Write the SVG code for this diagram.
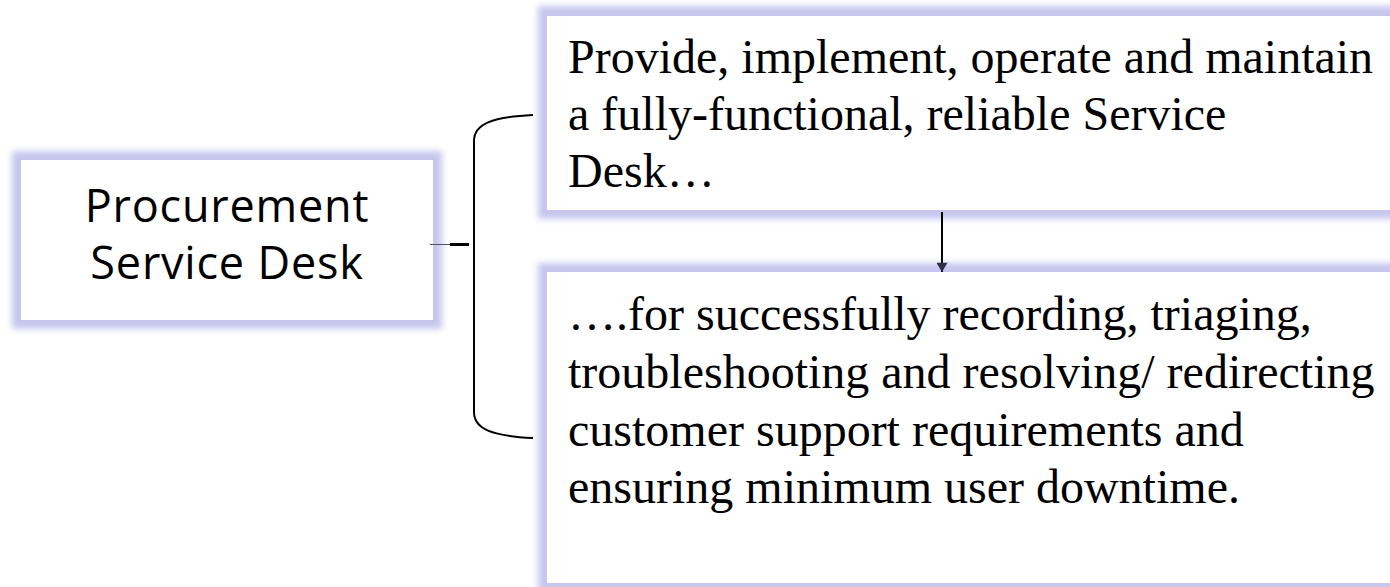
<svg xmlns="http://www.w3.org/2000/svg" width="1390" height="587" viewBox="0 0 1390 587">
  <defs>
    <filter id="soft" x="-10%" y="-10%" width="120%" height="120%">
      <feGaussianBlur stdDeviation="3.2"/>
    </filter>
    <marker id="head" viewBox="0 0 10 12" refX="10" refY="6" markerWidth="12" markerHeight="11" markerUnits="userSpaceOnUse" orient="auto">
      <path d="M0,0 L10,6 L0,12 Z" fill="#2e2e48"/>
    </marker>
  </defs>
  <style>
    .glow { fill: #c6c6ee; filter: url(#soft); }
    .card { fill: #ffffff; }
    .sans { font-family: "Open Sans", "DejaVu Sans", sans-serif; font-size: 45px; fill: #000; letter-spacing: 0.8px; }
    .serif { font-family: "Liberation Serif", "Times New Roman", serif; font-size: 48px; fill: #000; }
    .line { fill: none; stroke: #000; stroke-width: 2; }
  </style>
  <rect width="1390" height="587" fill="#ffffff"/>

  <!-- Root node -->
  <g id="procurement-service-desk">
    <rect class="glow" x="12" y="151" width="430" height="178"/>
    <rect class="card" x="21" y="160" width="412" height="160"/>
    <text class="sans" x="227" y="222" text-anchor="middle">Procurement</text>
    <text class="sans" x="227" y="279" text-anchor="middle">Service Desk</text>
  </g>

  <!-- Upper statement -->
  <g id="provide-service-desk">
    <rect class="glow" x="538" y="6" width="872" height="213"/>
    <rect class="card" x="547" y="16" width="860" height="194"/>
    <text class="serif" x="568" y="73">Provide, implement, operate and maintain</text>
    <text class="serif" x="568" y="130">a fully-functional, reliable Service</text>
    <text class="serif" x="568" y="187">Desk…</text>
  </g>

  <!-- Lower statement -->
  <g id="support-requirements">
    <rect class="glow" x="538" y="263" width="872" height="329"/>
    <rect class="card" x="547" y="272" width="860" height="311"/>
    <text class="serif" x="568" y="330">….for successfully recording, triaging,</text>
    <text class="serif" x="568" y="388">troubleshooting and resolving/ redirecting</text>
    <text class="serif" x="568" y="446">customer support requirements and</text>
    <text class="serif" x="568" y="503">ensuring minimum user downtime.</text>
  </g>

  <!-- Connectors -->
  <g id="connectors">
    <line x1="430" y1="244.5" x2="450" y2="244.5" stroke="#555" stroke-width="1"/>
    <line x1="450" y1="244.5" x2="469" y2="244.5" stroke="#000" stroke-width="3"/>
    <path class="line" d="M533,115 C492,117 474,124 474,141 L474,412 C474,429 492,436 533,438"/>
    <line class="line" x1="942" y1="212" x2="942" y2="272" marker-end="url(#head)"/>
  </g>
</svg>
